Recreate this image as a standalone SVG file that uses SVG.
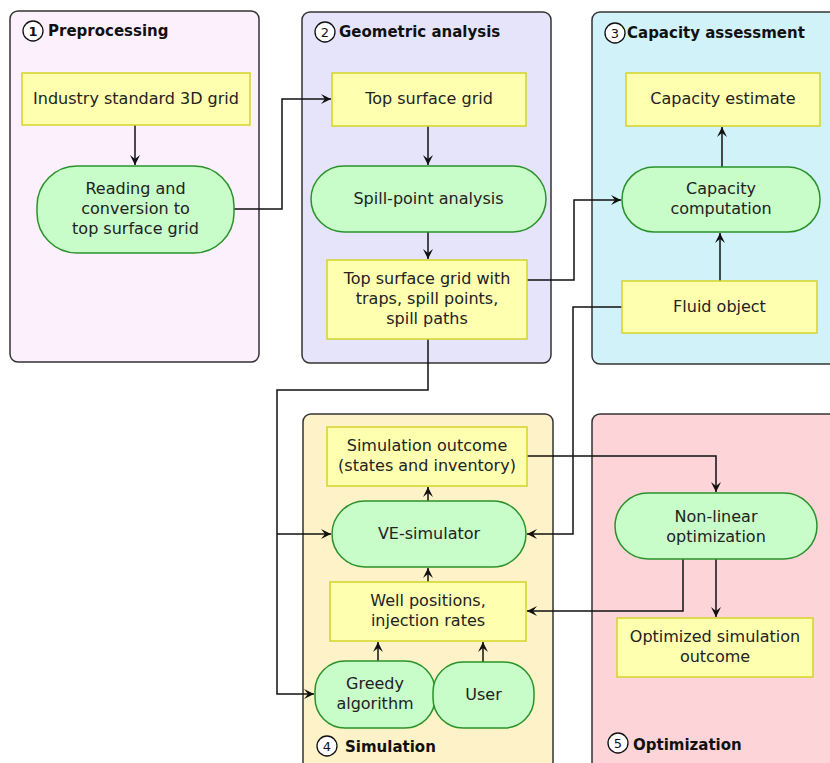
<svg xmlns="http://www.w3.org/2000/svg" width="830" height="763" viewBox="0 0 830 763">
<defs>
<style>
.panel{stroke:#333;stroke-width:1.5}
.rect{fill:#ffffb0;stroke:#d4d42a;stroke-width:1.5}
.pill{fill:#c8fcc8;stroke:#2a922a;stroke-width:1.5}
.t{font-family:"DejaVu Sans",sans-serif;font-size:16px;fill:#222;text-anchor:middle}
.h{font-family:"DejaVu Sans",sans-serif;font-size:15px;font-weight:bold;fill:#111}
.num{font-family:"DejaVu Sans",sans-serif;font-size:13px;fill:#111;text-anchor:middle}
.circ{fill:#fff;stroke:#111;stroke-width:1.3}
.c{fill:none;stroke:#111;stroke-width:1.5}
</style>
<marker id="ar" viewBox="-10 -5 11 10" refX="0" refY="0" markerWidth="11" markerHeight="10" markerUnits="userSpaceOnUse" orient="auto">
<path d="M0,0 L-10,-5 L-6,0 L-10,5 Z" fill="#111"/>
</marker>
</defs>
<rect width="830" height="763" fill="#fff"/>

<g id="panel1">
<rect class="panel" x="10" y="11" width="249" height="351" rx="8" fill="#fdf0fd"/>
<circle class="circ" cx="33" cy="31" r="10"/>
<text class="num" x="33" y="36" font-weight="bold">1</text>
<text class="h" x="48" y="36">Preprocessing</text>
</g>
<g id="panel2">
<rect class="panel" x="302" y="12" width="249" height="351" rx="8" fill="#e6e4fb"/>
<circle class="circ" cx="325" cy="32" r="10"/>
<text class="num" x="325" y="37">2</text>
<text class="h" x="339" y="37">Geometric analysis</text>
</g>
<g id="panel3">
<rect class="panel" x="592" y="12" width="250" height="352" rx="8" fill="#d2f2fa"/>
<circle class="circ" cx="615" cy="33" r="10"/>
<text class="num" x="615" y="38">3</text>
<text class="h" x="627" y="38">Capacity assessment</text>
</g>
<g id="panel4">
<rect class="panel" x="303" y="414" width="250" height="360" rx="8" fill="#fdf2c8"/>
<circle class="circ" cx="327" cy="746" r="10"/>
<text class="num" x="327" y="751">4</text>
<text class="h" x="345" y="752">Simulation</text>
</g>
<g id="panel5">
<rect class="panel" x="592" y="414" width="250" height="360" rx="8" fill="#fdd5d9"/>
<circle class="circ" cx="618" cy="743" r="10"/>
<text class="num" x="618" y="748">5</text>
<text class="h" x="633" y="750">Optimization</text>
</g>

<g id="connectors">
<path class="c" d="M135,125 V165" marker-end="url(#ar)"/>
<path class="c" d="M234,209 H282 V99 H331" marker-end="url(#ar)"/>
<path class="c" d="M428,126 V165" marker-end="url(#ar)"/>
<path class="c" d="M428,232 V259" marker-end="url(#ar)"/>
<path class="c" d="M527,280 H574 V200 H621" marker-end="url(#ar)"/>
<path class="c" d="M722,167 V127" marker-end="url(#ar)"/>
<path class="c" d="M720,281 V233" marker-end="url(#ar)"/>
<path class="c" d="M622,307 H573 V534 H527" marker-end="url(#ar)"/>
<path class="c" d="M428,339 V390 H277 V694 H314" marker-end="url(#ar)"/>
<path class="c" d="M277,534 H331" marker-end="url(#ar)"/>
<path class="c" d="M428,501 V487" marker-end="url(#ar)"/>
<path class="c" d="M428,582 V568" marker-end="url(#ar)"/>
<path class="c" d="M378,661 V642" marker-end="url(#ar)"/>
<path class="c" d="M483,662 V642" marker-end="url(#ar)"/>
<path class="c" d="M527,456 H716 V492" marker-end="url(#ar)"/>
<path class="c" d="M683,559 V611 H527" marker-end="url(#ar)"/>
<path class="c" d="M716,559 V617" marker-end="url(#ar)"/>
</g>

<g id="n-industry">
<rect class="rect" x="22" y="73" width="228" height="52"/>
<text class="t" x="136" y="104">Industry standard 3D grid</text>
</g>
<g id="n-reading">
<rect class="pill" x="37" y="166" width="197" height="87" rx="40"/>
<text class="t" x="135.5" y="194">Reading and</text>
<text class="t" x="135.5" y="214">conversion to</text>
<text class="t" x="135.5" y="234">top surface grid</text>
</g>
<g id="n-topsurface">
<rect class="rect" x="332" y="73" width="194" height="53"/>
<text class="t" x="429" y="104">Top surface grid</text>
</g>
<g id="n-spill">
<rect class="pill" x="311" y="166" width="235" height="66" rx="33"/>
<text class="t" x="428.5" y="204">Spill-point analysis</text>
</g>
<g id="n-traps">
<rect class="rect" x="327" y="260" width="200" height="79"/>
<text class="t" x="427" y="284">Top surface grid with</text>
<text class="t" x="427" y="304">traps, spill points,</text>
<text class="t" x="427" y="324">spill paths</text>
</g>
<g id="n-capest">
<rect class="rect" x="626" y="73" width="194" height="53"/>
<text class="t" x="723" y="104">Capacity estimate</text>
</g>
<g id="n-capcomp">
<rect class="pill" x="622" y="167" width="198" height="65" rx="32"/>
<text class="t" x="721" y="194">Capacity</text>
<text class="t" x="721" y="214">computation</text>
</g>
<g id="n-fluid">
<rect class="rect" x="622" y="281" width="195" height="52"/>
<text class="t" x="719.5" y="312">Fluid object</text>
</g>
<g id="n-simout">
<rect class="rect" x="327" y="427" width="200" height="59"/>
<text class="t" x="427" y="451">Simulation outcome</text>
<text class="t" x="427" y="471">(states and inventory)</text>
</g>
<g id="n-ve">
<rect class="pill" x="332" y="501" width="194" height="66" rx="33"/>
<text class="t" x="429" y="539">VE-simulator</text>
</g>
<g id="n-well">
<rect class="rect" x="330" y="582" width="196" height="59"/>
<text class="t" x="428" y="606">Well positions,</text>
<text class="t" x="428" y="626">injection rates</text>
</g>
<g id="n-greedy">
<rect class="pill" x="315" y="661" width="120" height="67" rx="30"/>
<text class="t" x="375" y="689">Greedy</text>
<text class="t" x="375" y="709">algorithm</text>
</g>
<g id="n-user">
<rect class="pill" x="433" y="662" width="101" height="66" rx="30"/>
<text class="t" x="483.5" y="700">User</text>
</g>
<g id="n-nonlinear">
<rect class="pill" x="615" y="493" width="202" height="66" rx="33"/>
<text class="t" x="716" y="522">Non-linear</text>
<text class="t" x="716" y="542">optimization</text>
</g>
<g id="n-optimized">
<rect class="rect" x="617" y="618" width="196" height="59"/>
<text class="t" x="715" y="642">Optimized simulation</text>
<text class="t" x="715" y="662">outcome</text>
</g>
</svg>
